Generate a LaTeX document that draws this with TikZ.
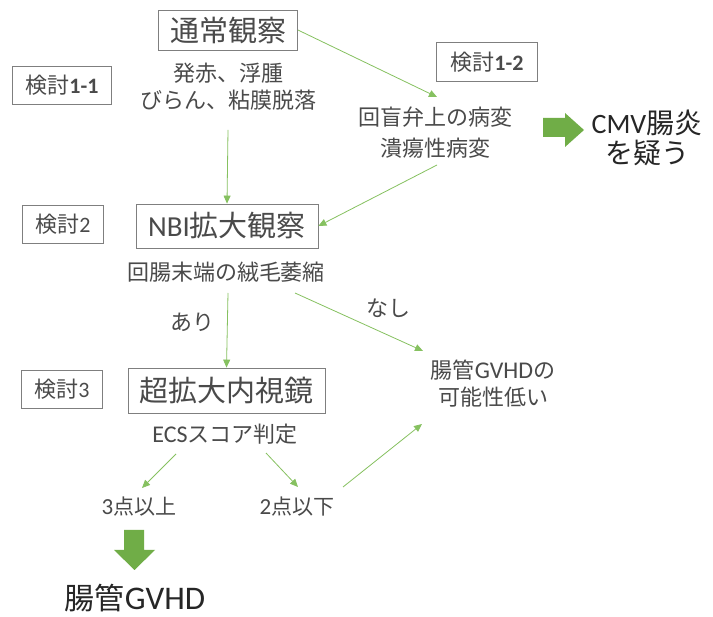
\documentclass[tikz,border=0pt]{standalone}
\usepackage{fontspec}
\setmainfont{Noto Sans CJK JP}
\newfontfamily\lat{Carlito}
\usetikzlibrary{arrows.meta}
\definecolor{txt}{HTML}{4A4A4A}
\definecolor{grn}{HTML}{70AD47}
\definecolor{lgrn}{HTML}{86C160}
\definecolor{boxc}{HTML}{7F7F7F}
\begin{document}
\begin{tikzpicture}[x=1pt,y=-1pt,
  lbl/.style={text=txt,font=\fontsize{22}{27}\selectfont,align=center,inner sep=0pt},
  title/.style={draw=boxc,line width=0.8pt,text=txt,font=\fontsize{29}{32}\selectfont,inner sep=0pt},
  tag/.style={draw=boxc,line width=0.8pt,text=txt,font=\fontsize{22}{24}\selectfont,inner sep=0pt},
  conn/.style={draw=lgrn,line width=0.8pt,-{Triangle[length=8pt,width=7pt]}},
  big/.style={text=black!85,font=\fontsize{28}{30}\selectfont,align=center,inner sep=0pt},
  blockarrow/.style={fill=grn,draw=none}]
\useasboundingbox (0,0) rectangle (713,617);
\fill[white] (0,0) rectangle (713,617);

% boxes
\node[title,minimum width=139pt,minimum height=40pt] (t0) at (228,30) {通常観察};
\node[tag,minimum width=99pt,minimum height=38pt] (k11) at (62,85) {検討{\lat\bfseries 1-1}};
\node[tag,minimum width=101pt,minimum height=39pt] (k12) at (487,62) {検討{\lat\bfseries 1-2}};
\node[title,minimum width=182pt,minimum height=44pt] (n2) at (227,226) {{\lat NBI}拡大観察};
\node[tag,minimum width=81pt,minimum height=38pt] (k2) at (63,224) {検討{\lat 2}};
\node[title,minimum width=197pt,minimum height=45pt] (n3) at (226.5,390.5) {超拡大内視鏡};
\node[tag,minimum width=81pt,minimum height=38pt] (k3) at (62,389) {検討{\lat 3}};

% labels
\node[lbl] (c11) at (228,87) {発赤、浮腫\\びらん、粘膜脱落};
\node[lbl,font=\fontsize{22}{31}\selectfont] (c12) at (435,133) {回盲弁上の病変\\潰瘍性病変};
\node[big] (cmv) at (647,138) {{\lat CMV}腸炎\\を疑う};
\node[lbl] (atr) at (226,272) {回腸末端の絨毛萎縮};
\node[lbl] (ari) at (192,322) {あり};
\node[lbl] (nashi) at (388,308) {なし};
\node[lbl] (low) at (493,384) {腸管{\lat\fontsize{24}{27}\selectfont GVHD}の\\可能性低い};
\node[lbl] (ecs) at (225,434) {{\lat\fontsize{24}{27}\selectfont ECS}スコア判定};
\node[lbl,font=\fontsize{21}{24}\selectfont] (p3) at (139,507) {{\lat\fontsize{23}{24}\selectfont 3}点以上};
\node[lbl,font=\fontsize{21}{24}\selectfont] (p2) at (297,507) {{\lat\fontsize{23}{24}\selectfont 2}点以下};
\node[big,font=\fontsize{30}{32}\selectfont] (gv) at (135,598) {腸管{\lat\fontsize{33}{34}\selectfont GVHD}};

% connector end points
\coordinate (a1) at (437,97);
\coordinate (b0) at (437,165);
\coordinate (c0) at (228,130);
\coordinate (d0) at (228,293);
\coordinate (e0) at (295,293);
\coordinate (e1) at (423,351);
\coordinate (f0) at (176,454);
\coordinate (f1) at (142,488);
\coordinate (g0) at (266,453);
\coordinate (g1) at (298,487);
\coordinate (h0) at (343,487);
\coordinate (h1) at (422,424);

\draw[conn] (t0.east) -- (a1);
\draw[conn] (b0) -- (n2.east);
\draw[conn] (c0) -- (n2.north);
\draw[conn] (d0) -- (n3.north);
\draw[conn] (e0) -- (e1);
\draw[conn] (f0) -- (f1);
\draw[conn] (g0) -- (g1);
\draw[conn] (h0) -- (h1);

% block arrows
\fill[blockarrow] (543,118) -- (565,118) -- (565,113) -- (584,130) -- (565,147) -- (565,137) -- (543,137) -- cycle;
\fill[blockarrow] (124,530) -- (144,530) -- (144,550) -- (155,550) -- (134.5,570) -- (114,550) -- (124,550) -- cycle;
\end{tikzpicture}
\end{document}
